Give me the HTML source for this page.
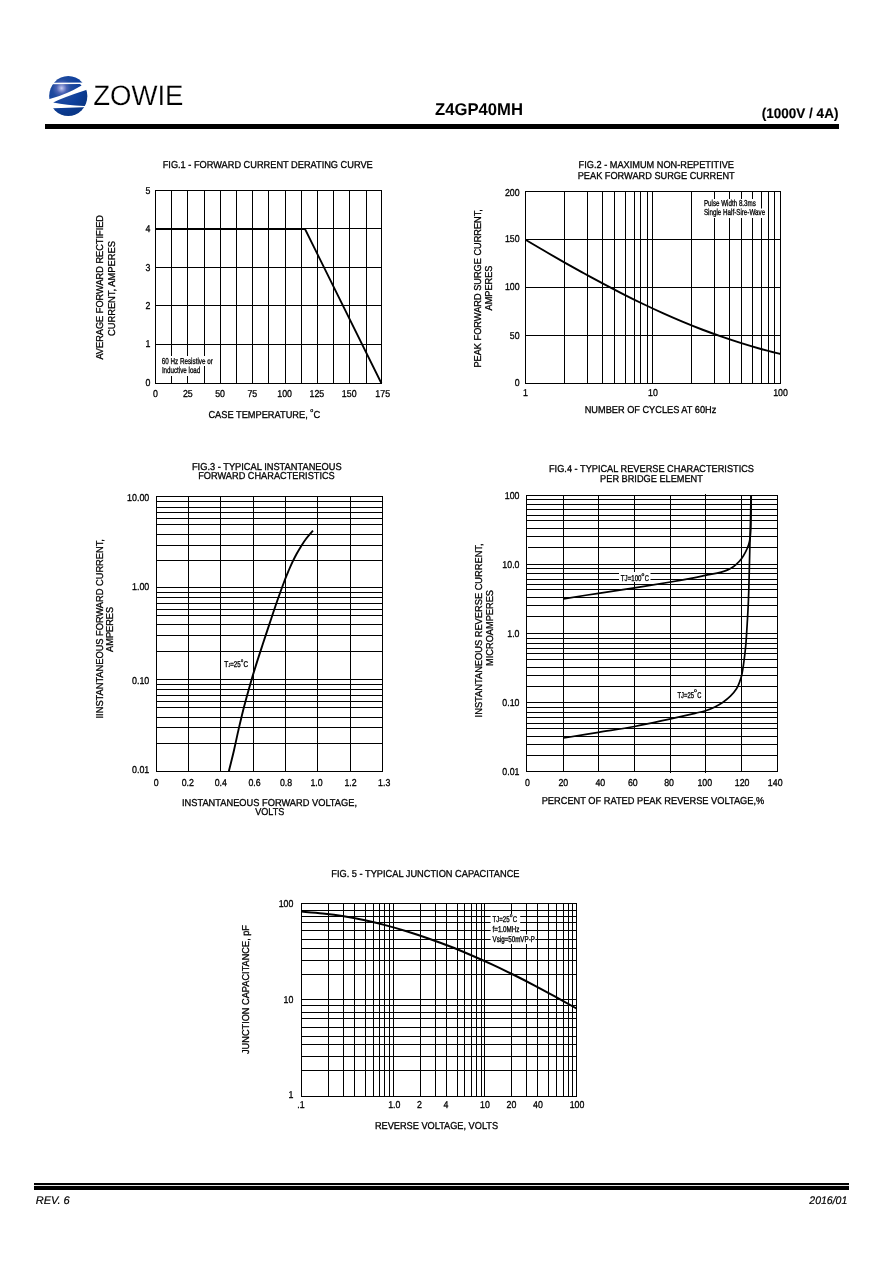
<!DOCTYPE html>
<html lang="en">
<head>
<meta charset="utf-8">
<title>Z4GP40MH - Rating and Characteristic Curves</title>
<style>
html,body{margin:0;padding:0;background:#fff;}
body{width:889px;height:1265px;overflow:hidden;position:relative;font-family:"Liberation Sans", sans-serif;}
svg{display:block;position:absolute;left:0;top:0;}
svg text{font-family:"Liberation Sans", sans-serif;text-rendering:geometricPrecision;}
</style>
</head>
<body>
<svg width="889" height="1265" viewBox="0 0 889 1265">
<rect x="0" y="0" width="889" height="1265" fill="#fff"/>
<defs>
<radialGradient id="lg" gradientUnits="userSpaceOnUse" cx="61.6" cy="88.2" r="26" fx="61.6" fy="88.2">
<stop offset="0" stop-color="#c9cdf2"/><stop offset="0.07" stop-color="#9aa4dc"/><stop offset="0.2" stop-color="#4a62b4"/><stop offset="0.36" stop-color="#1f4a9e"/><stop offset="0.7" stop-color="#0d3f9c"/><stop offset="1" stop-color="#0a3788"/>
</radialGradient>
<clipPath id="lc"><ellipse cx="68.25" cy="96.1" rx="19.1" ry="20.0"/></clipPath>
</defs>
<g id="logo" clip-path="url(#lc)" fill="url(#lg)"><path d="M44.00 72.00 L94.00 72.00 L94.00 82.35 L44.00 82.69 Z"/><path d="M44.00 84.20 L80.00 83.98 L81.57 85.39 Q67.62 93.82 49.62 99.11 L44.00 101.25 Z"/><path d="M53.17 102.43 Q63.40 97.42 86.07 90.00 L94.00 87.07 L94.00 106.42 L84.21 105.91 Q66.50 105.30 53.17 102.54 Z"/><path d="M44.00 108.67 L54.12 108.28 L82.81 107.26 L94.00 106.87 L94.00 119.98 L44.00 119.98 Z"/></g>
<text x="93.20" y="104.80" font-size="28" textLength="90.30" lengthAdjust="spacingAndGlyphs" fill="#000" stroke="#fff" stroke-width="0.2">ZOWIE</text>
<rect x="45" y="124.0" width="794" height="5" fill="#000"/>
<text x="435.00" y="114.70" font-size="17" font-weight="bold" textLength="88.00" lengthAdjust="spacingAndGlyphs" fill="#000">Z4GP40MH</text>
<text x="761.80" y="118.40" font-size="14" font-weight="bold" textLength="76.60" lengthAdjust="spacingAndGlyphs" fill="#000" stroke="#000" stroke-width="0.15">(1000V / 4A)</text>
<rect x="34" y="1183.0" width="815" height="2" fill="#000"/>
<rect x="34" y="1185.9" width="815" height="4.1" fill="#000"/>
<text x="35.70" y="1204.00" font-size="11" font-style="italic" fill="#000" stroke="#000" stroke-width="0.2">REV. 6</text>
<text x="809.33" y="1204.00" font-size="11" font-style="italic" textLength="37.97" lengthAdjust="spacingAndGlyphs" fill="#000" stroke="#000" stroke-width="0.2">2016/01</text>
<rect x="155.0" y="190" width="1" height="194" fill="#000"/>
<rect x="171.0" y="190" width="1" height="194" fill="#000"/>
<rect x="187.0" y="190" width="1" height="194" fill="#000"/>
<rect x="204.0" y="190" width="1" height="194" fill="#000"/>
<rect x="220.0" y="190" width="1" height="194" fill="#000"/>
<rect x="236.0" y="190" width="1" height="194" fill="#000"/>
<rect x="252.0" y="190" width="1" height="194" fill="#000"/>
<rect x="268.0" y="190" width="1" height="194" fill="#000"/>
<rect x="285.0" y="190" width="1" height="194" fill="#000"/>
<rect x="301.0" y="190" width="1" height="194" fill="#000"/>
<rect x="317.0" y="190" width="1" height="194" fill="#000"/>
<rect x="333.0" y="190" width="1" height="194" fill="#000"/>
<rect x="349.0" y="190" width="1" height="194" fill="#000"/>
<rect x="366.0" y="190" width="1" height="194" fill="#000"/>
<rect x="381.0" y="190" width="1" height="194" fill="#000"/>
<rect x="155" y="190.0" width="227" height="1" fill="#000"/>
<rect x="155" y="228.0" width="227" height="1" fill="#000"/>
<rect x="155" y="267.0" width="227" height="1" fill="#000"/>
<rect x="155" y="305.0" width="227" height="1" fill="#000"/>
<rect x="155" y="344.0" width="227" height="1" fill="#000"/>
<rect x="155" y="383.0" width="227" height="1" fill="#000"/>
<rect x="159.5" y="356" width="54" height="10" fill="#fff"/>
<rect x="159.5" y="365" width="42" height="11" fill="#fff"/>
<text x="161.70" y="364.30" font-size="8.6" textLength="51.10" lengthAdjust="spacingAndGlyphs" fill="#000" stroke="#000" stroke-width="0.3">60 Hz Resistive or</text>
<text x="161.90" y="373.40" font-size="8.6" textLength="38.40" lengthAdjust="spacingAndGlyphs" fill="#000" stroke="#000" stroke-width="0.3">Inductive load</text>
<path d="M155.50 229.00 L305.00 229.00 L381.50 383.50" fill="none" stroke="#000" stroke-width="1.8" stroke-linejoin="miter"/>
<text x="162.70" y="168.00" font-size="10" textLength="210.00" lengthAdjust="spacingAndGlyphs" fill="#000" stroke="#000" stroke-width="0.3">FIG.1 - FORWARD CURRENT DERATING CURVE</text>
<text x="145.51" y="194.30" font-size="10" textLength="4.89" lengthAdjust="spacingAndGlyphs" fill="#000" stroke="#000" stroke-width="0.3">5</text>
<text x="145.51" y="232.00" font-size="10" textLength="4.89" lengthAdjust="spacingAndGlyphs" fill="#000" stroke="#000" stroke-width="0.3">4</text>
<text x="145.51" y="271.40" font-size="10" textLength="4.89" lengthAdjust="spacingAndGlyphs" fill="#000" stroke="#000" stroke-width="0.3">3</text>
<text x="145.51" y="309.00" font-size="10" textLength="4.89" lengthAdjust="spacingAndGlyphs" fill="#000" stroke="#000" stroke-width="0.3">2</text>
<text x="145.51" y="347.20" font-size="10" textLength="4.89" lengthAdjust="spacingAndGlyphs" fill="#000" stroke="#000" stroke-width="0.3">1</text>
<text x="145.51" y="385.70" font-size="10" textLength="4.89" lengthAdjust="spacingAndGlyphs" fill="#000" stroke="#000" stroke-width="0.3">0</text>
<text x="153.05" y="396.70" font-size="10" textLength="4.89" lengthAdjust="spacingAndGlyphs" fill="#000" stroke="#000" stroke-width="0.3">0</text>
<text x="182.89" y="396.70" font-size="10" textLength="9.79" lengthAdjust="spacingAndGlyphs" fill="#000" stroke="#000" stroke-width="0.3">25</text>
<text x="215.18" y="396.70" font-size="10" textLength="9.79" lengthAdjust="spacingAndGlyphs" fill="#000" stroke="#000" stroke-width="0.3">50</text>
<text x="247.46" y="396.70" font-size="10" textLength="9.79" lengthAdjust="spacingAndGlyphs" fill="#000" stroke="#000" stroke-width="0.3">75</text>
<text x="277.30" y="396.70" font-size="10" textLength="14.68" lengthAdjust="spacingAndGlyphs" fill="#000" stroke="#000" stroke-width="0.3">100</text>
<text x="309.59" y="396.70" font-size="10" textLength="14.68" lengthAdjust="spacingAndGlyphs" fill="#000" stroke="#000" stroke-width="0.3">125</text>
<text x="341.87" y="396.70" font-size="10" textLength="14.68" lengthAdjust="spacingAndGlyphs" fill="#000" stroke="#000" stroke-width="0.3">150</text>
<text x="375.36" y="396.70" font-size="10" textLength="14.68" lengthAdjust="spacingAndGlyphs" fill="#000" stroke="#000" stroke-width="0.3">175</text>
<text><tspan x="208.40" y="417.70" font-size="10" textLength="99.40" lengthAdjust="spacingAndGlyphs" fill="#000" stroke="#000" stroke-width="0.3">CASE TEMPERATURE,</tspan><tspan x="310.20" y="411.90" font-size="5.5" textLength="3.00" lengthAdjust="spacingAndGlyphs" fill="#000" stroke="#000" stroke-width="0.3">o</tspan><tspan x="313.50" y="417.70" font-size="10" textLength="6.80" lengthAdjust="spacingAndGlyphs" fill="#000" stroke="#000" stroke-width="0.3">C</tspan></text>
<text x="31.10" y="287.30" font-size="10" textLength="144.60" lengthAdjust="spacingAndGlyphs" fill="#000" stroke="#000" stroke-width="0.3" transform="rotate(-90 103.40 287.30)">AVERAGE FORWARD RECTIFIED</text>
<text x="67.30" y="288.60" font-size="10" textLength="95.00" lengthAdjust="spacingAndGlyphs" fill="#000" stroke="#000" stroke-width="0.3" transform="rotate(-90 114.80 288.60)">CURRENT, AMPERES</text>
<rect x="525.0" y="191" width="1" height="193" fill="#000"/>
<rect x="564.0" y="191" width="1" height="193" fill="#000"/>
<rect x="587.0" y="191" width="1" height="193" fill="#000"/>
<rect x="602.0" y="191" width="1" height="193" fill="#000"/>
<rect x="614.0" y="191" width="1" height="193" fill="#000"/>
<rect x="625.0" y="191" width="1" height="193" fill="#000"/>
<rect x="634.0" y="191" width="1" height="193" fill="#000"/>
<rect x="640.0" y="191" width="1" height="193" fill="#000"/>
<rect x="647.0" y="191" width="1" height="193" fill="#000"/>
<rect x="652.0" y="191" width="1" height="193" fill="#000"/>
<rect x="691.0" y="191" width="1" height="193" fill="#000"/>
<rect x="714.0" y="191" width="1" height="193" fill="#000"/>
<rect x="729.0" y="191" width="1" height="193" fill="#000"/>
<rect x="741.0" y="191" width="1" height="193" fill="#000"/>
<rect x="752.0" y="191" width="1" height="193" fill="#000"/>
<rect x="761.0" y="191" width="1" height="193" fill="#000"/>
<rect x="768.0" y="191" width="1" height="193" fill="#000"/>
<rect x="774.0" y="191" width="1" height="193" fill="#000"/>
<rect x="780.0" y="191" width="1" height="193" fill="#000"/>
<rect x="525" y="191.0" width="256" height="1" fill="#000"/>
<rect x="525" y="239.0" width="256" height="1" fill="#000"/>
<rect x="525" y="287.0" width="256" height="1" fill="#000"/>
<rect x="525" y="335.0" width="256" height="1" fill="#000"/>
<rect x="525" y="383.0" width="256" height="1" fill="#000"/>
<rect x="703" y="199" width="55" height="10" fill="#fff"/>
<rect x="703" y="208.5" width="63" height="9.5" fill="#fff"/>
<text x="703.90" y="206.30" font-size="8.6" textLength="52.00" lengthAdjust="spacingAndGlyphs" fill="#000" stroke="#000" stroke-width="0.3">Pulse Width 8.3ms</text>
<text x="703.90" y="215.30" font-size="8.6" textLength="61.30" lengthAdjust="spacingAndGlyphs" fill="#000" stroke="#000" stroke-width="0.3">Single Half-Sire-Wave</text>
<path d="M525.50 239.80 C528.77 241.72 538.57 247.50 545.10 251.30 C551.63 255.10 558.17 258.90 564.70 262.60 C571.23 266.30 577.75 269.92 584.30 273.50 C590.85 277.08 597.45 280.63 604.00 284.10 C610.55 287.57 617.07 290.98 623.60 294.30 C630.13 297.62 636.67 300.87 643.20 304.00 C649.73 307.13 656.27 310.17 662.80 313.10 C669.33 316.03 675.87 318.87 682.40 321.60 C688.93 324.33 695.45 326.98 702.00 329.50 C708.55 332.02 715.15 334.42 721.70 336.70 C728.25 338.98 734.77 341.15 741.30 343.20 C747.83 345.25 754.37 347.20 760.90 349.00 C767.43 350.80 777.23 353.17 780.50 354.00" fill="none" stroke="#000" stroke-width="1.9" stroke-linejoin="round"/>
<text x="578.61" y="168.40" font-size="10" textLength="155.39" lengthAdjust="spacingAndGlyphs" fill="#000" stroke="#000" stroke-width="0.3">FIG.2 - MAXIMUM NON-REPETITIVE</text>
<text x="577.74" y="179.40" font-size="10" textLength="156.93" lengthAdjust="spacingAndGlyphs" fill="#000" stroke="#000" stroke-width="0.3">PEAK FORWARD SURGE CURRENT</text>
<text x="504.92" y="196.20" font-size="10" textLength="14.68" lengthAdjust="spacingAndGlyphs" fill="#000" stroke="#000" stroke-width="0.3">200</text>
<text x="504.92" y="242.10" font-size="10" textLength="14.68" lengthAdjust="spacingAndGlyphs" fill="#000" stroke="#000" stroke-width="0.3">150</text>
<text x="504.92" y="290.00" font-size="10" textLength="14.68" lengthAdjust="spacingAndGlyphs" fill="#000" stroke="#000" stroke-width="0.3">100</text>
<text x="509.81" y="338.70" font-size="10" textLength="9.79" lengthAdjust="spacingAndGlyphs" fill="#000" stroke="#000" stroke-width="0.3">50</text>
<text x="514.71" y="385.80" font-size="10" textLength="4.89" lengthAdjust="spacingAndGlyphs" fill="#000" stroke="#000" stroke-width="0.3">0</text>
<text x="523.05" y="395.70" font-size="10" textLength="4.89" lengthAdjust="spacingAndGlyphs" fill="#000" stroke="#000" stroke-width="0.3">1</text>
<text x="648.11" y="395.70" font-size="10" textLength="9.79" lengthAdjust="spacingAndGlyphs" fill="#000" stroke="#000" stroke-width="0.3">10</text>
<text x="773.16" y="395.70" font-size="10" textLength="14.68" lengthAdjust="spacingAndGlyphs" fill="#000" stroke="#000" stroke-width="0.3">100</text>
<text x="584.72" y="412.50" font-size="10" textLength="131.56" lengthAdjust="spacingAndGlyphs" fill="#000" stroke="#000" stroke-width="0.3">NUMBER OF CYCLES AT 60Hz</text>
<text x="402.17" y="288.30" font-size="10" textLength="158.47" lengthAdjust="spacingAndGlyphs" fill="#000" stroke="#000" stroke-width="0.3" transform="rotate(-90 481.40 288.30)">PEAK FORWARD SURGE CURRENT,</text>
<text x="469.50" y="288.00" font-size="10" textLength="44.99" lengthAdjust="spacingAndGlyphs" fill="#000" stroke="#000" stroke-width="0.3" transform="rotate(-90 492.00 288.00)">AMPERES</text>
<rect x="156" y="496.0" width="227" height="1" fill="#000"/>
<rect x="156" y="501.0" width="227" height="1" fill="#000"/>
<rect x="156" y="507.0" width="227" height="1" fill="#000"/>
<rect x="156" y="512.0" width="227" height="1" fill="#000"/>
<rect x="156" y="518.0" width="227" height="1" fill="#000"/>
<rect x="156" y="524.0" width="227" height="1" fill="#000"/>
<rect x="156" y="534.0" width="227" height="1" fill="#000"/>
<rect x="156" y="545.0" width="227" height="1" fill="#000"/>
<rect x="156" y="560.0" width="227" height="1" fill="#000"/>
<rect x="156" y="587.0" width="227" height="1" fill="#000"/>
<rect x="156" y="592.0" width="227" height="1" fill="#000"/>
<rect x="156" y="597.0" width="227" height="1" fill="#000"/>
<rect x="156" y="603.0" width="227" height="1" fill="#000"/>
<rect x="156" y="609.0" width="227" height="1" fill="#000"/>
<rect x="156" y="615.0" width="227" height="1" fill="#000"/>
<rect x="156" y="624.0" width="227" height="1" fill="#000"/>
<rect x="156" y="635.0" width="227" height="1" fill="#000"/>
<rect x="156" y="651.0" width="227" height="1" fill="#000"/>
<rect x="156" y="679.0" width="227" height="1" fill="#000"/>
<rect x="156" y="684.0" width="227" height="1" fill="#000"/>
<rect x="156" y="689.0" width="227" height="1" fill="#000"/>
<rect x="156" y="695.0" width="227" height="1" fill="#000"/>
<rect x="156" y="701.0" width="227" height="1" fill="#000"/>
<rect x="156" y="707.0" width="227" height="1" fill="#000"/>
<rect x="156" y="717.0" width="227" height="1" fill="#000"/>
<rect x="156" y="727.0" width="227" height="1" fill="#000"/>
<rect x="156" y="743.0" width="227" height="1" fill="#000"/>
<rect x="156" y="771.0" width="227" height="1" fill="#000"/>
<rect x="156.0" y="496" width="1" height="276" fill="#000"/>
<rect x="188.0" y="496" width="1" height="276" fill="#000"/>
<rect x="220.0" y="496" width="1" height="276" fill="#000"/>
<rect x="253.0" y="496" width="1" height="276" fill="#000"/>
<rect x="285.0" y="496" width="1" height="276" fill="#000"/>
<rect x="317.0" y="496" width="1" height="276" fill="#000"/>
<rect x="350.0" y="496" width="1" height="276" fill="#000"/>
<rect x="382.0" y="496" width="1" height="276" fill="#000"/>
<text x="191.94" y="469.60" font-size="10" textLength="149.71" lengthAdjust="spacingAndGlyphs" fill="#000" stroke="#000" stroke-width="0.3">FIG.3 - TYPICAL INSTANTANEOUS</text>
<text x="198.26" y="478.50" font-size="10" textLength="136.48" lengthAdjust="spacingAndGlyphs" fill="#000" stroke="#000" stroke-width="0.3">FORWARD CHARACTERISTICS</text>
<text x="127.03" y="500.90" font-size="10" textLength="22.27" lengthAdjust="spacingAndGlyphs" fill="#000" stroke="#000" stroke-width="0.3">10.00</text>
<text x="131.98" y="590.20" font-size="10" textLength="17.32" lengthAdjust="spacingAndGlyphs" fill="#000" stroke="#000" stroke-width="0.3">1.00</text>
<text x="131.98" y="684.30" font-size="10" textLength="17.32" lengthAdjust="spacingAndGlyphs" fill="#000" stroke="#000" stroke-width="0.3">0.10</text>
<text x="131.98" y="772.50" font-size="10" textLength="17.32" lengthAdjust="spacingAndGlyphs" fill="#000" stroke="#000" stroke-width="0.3">0.01</text>
<text x="153.75" y="785.60" font-size="10" textLength="4.89" lengthAdjust="spacingAndGlyphs" fill="#000" stroke="#000" stroke-width="0.3">0</text>
<text x="181.68" y="785.60" font-size="10" textLength="12.23" lengthAdjust="spacingAndGlyphs" fill="#000" stroke="#000" stroke-width="0.3">0.2</text>
<text x="214.68" y="785.60" font-size="10" textLength="12.23" lengthAdjust="spacingAndGlyphs" fill="#000" stroke="#000" stroke-width="0.3">0.4</text>
<text x="248.48" y="785.60" font-size="10" textLength="12.23" lengthAdjust="spacingAndGlyphs" fill="#000" stroke="#000" stroke-width="0.3">0.6</text>
<text x="279.88" y="785.60" font-size="10" textLength="12.23" lengthAdjust="spacingAndGlyphs" fill="#000" stroke="#000" stroke-width="0.3">0.8</text>
<text x="310.38" y="785.60" font-size="10" textLength="12.23" lengthAdjust="spacingAndGlyphs" fill="#000" stroke="#000" stroke-width="0.3">1.0</text>
<text x="344.38" y="785.60" font-size="10" textLength="12.23" lengthAdjust="spacingAndGlyphs" fill="#000" stroke="#000" stroke-width="0.3">1.2</text>
<text x="378.08" y="785.60" font-size="10" textLength="12.23" lengthAdjust="spacingAndGlyphs" fill="#000" stroke="#000" stroke-width="0.3">1.3</text>
<text x="182.00" y="805.50" font-size="10" textLength="175.00" lengthAdjust="spacingAndGlyphs" fill="#000" stroke="#000" stroke-width="0.3">INSTANTANEOUS FORWARD VOLTAGE,</text>
<text x="255.30" y="814.50" font-size="10" textLength="29.00" lengthAdjust="spacingAndGlyphs" fill="#000" stroke="#000" stroke-width="0.3">VOLTS</text>
<text x="12.95" y="628.80" font-size="10" textLength="179.30" lengthAdjust="spacingAndGlyphs" fill="#000" stroke="#000" stroke-width="0.3" transform="rotate(-90 102.60 628.80)">IINSTANTANEOUS FORWARD CURRENT,</text>
<text x="90.10" y="629.40" font-size="10" textLength="44.99" lengthAdjust="spacingAndGlyphs" fill="#000" stroke="#000" stroke-width="0.3" transform="rotate(-90 112.60 629.40)">AMPERES</text>
<text><tspan x="224.30" y="666.90" font-size="8.4" textLength="4.00" lengthAdjust="spacingAndGlyphs" fill="#000" stroke="#000" stroke-width="0.35">T</tspan><tspan x="228.40" y="666.90" font-size="5.6" textLength="1.80" lengthAdjust="spacingAndGlyphs" fill="#000" stroke="#000" stroke-width="0.35">J</tspan><tspan x="230.20" y="666.90" font-size="8.4" textLength="10.40" lengthAdjust="spacingAndGlyphs" fill="#000" stroke="#000" stroke-width="0.35">=25</tspan><tspan x="241.00" y="661.90" font-size="5" textLength="2.20" lengthAdjust="spacingAndGlyphs" fill="#000" stroke="#000" stroke-width="0.3">o</tspan><tspan x="243.60" y="666.90" font-size="8.4" textLength="4.50" lengthAdjust="spacingAndGlyphs" fill="#000" stroke="#000" stroke-width="0.35">C</tspan></text>
<path d="M228.80 771.50 C229.67 767.95 232.35 757.30 234.00 750.20 C235.65 743.10 237.07 735.98 238.70 728.90 C240.33 721.82 241.98 714.78 243.80 707.70 C245.62 700.62 247.57 693.50 249.60 686.40 C251.63 679.30 253.78 672.20 256.00 665.10 C258.22 658.00 260.58 650.88 262.90 643.80 C265.22 636.72 267.53 629.68 269.90 622.60 C272.27 615.52 274.62 608.40 277.10 601.30 C279.58 594.20 282.83 585.22 284.80 580.00 C286.77 574.78 287.63 572.98 288.90 570.00 C290.17 567.02 291.15 564.73 292.40 562.10 C293.65 559.47 294.97 556.82 296.40 554.20 C297.83 551.58 299.35 549.02 301.00 546.40 C302.65 543.78 304.30 541.13 306.30 538.50 C308.30 535.87 311.88 531.92 313.00 530.60" fill="none" stroke="#000" stroke-width="1.9" stroke-linejoin="round"/>
<rect x="526" y="495.0" width="252" height="1" fill="#000"/>
<rect x="526" y="499.0" width="252" height="1" fill="#000"/>
<rect x="526" y="504.0" width="252" height="1" fill="#000"/>
<rect x="526" y="509.0" width="252" height="1" fill="#000"/>
<rect x="526" y="515.0" width="252" height="1" fill="#000"/>
<rect x="526" y="520.0" width="252" height="1" fill="#000"/>
<rect x="526" y="528.0" width="252" height="1" fill="#000"/>
<rect x="526" y="536.0" width="252" height="1" fill="#000"/>
<rect x="528" y="547.0" width="250" height="1" fill="#000"/>
<rect x="526" y="564.0" width="252" height="1" fill="#000"/>
<rect x="526" y="568.0" width="252" height="1" fill="#000"/>
<rect x="526" y="573.0" width="252" height="1" fill="#000"/>
<rect x="526" y="579.0" width="252" height="1" fill="#000"/>
<rect x="526" y="584.0" width="252" height="1" fill="#000"/>
<rect x="526" y="589.0" width="252" height="1" fill="#000"/>
<rect x="526" y="597.0" width="252" height="1" fill="#000"/>
<rect x="526" y="605.0" width="252" height="1" fill="#000"/>
<rect x="526" y="616.0" width="252" height="1" fill="#000"/>
<rect x="526" y="633.0" width="252" height="1" fill="#000"/>
<rect x="526" y="638.0" width="252" height="1" fill="#000"/>
<rect x="526" y="643.0" width="252" height="1" fill="#000"/>
<rect x="526" y="648.0" width="252" height="1" fill="#000"/>
<rect x="526" y="653.0" width="252" height="1" fill="#000"/>
<rect x="526" y="659.0" width="252" height="1" fill="#000"/>
<rect x="526" y="667.0" width="252" height="1" fill="#000"/>
<rect x="526" y="675.0" width="252" height="1" fill="#000"/>
<rect x="526" y="686.0" width="252" height="1" fill="#000"/>
<rect x="526" y="702.0" width="252" height="1" fill="#000"/>
<rect x="526" y="707.0" width="252" height="1" fill="#000"/>
<rect x="526" y="712.0" width="252" height="1" fill="#000"/>
<rect x="526" y="717.0" width="252" height="1" fill="#000"/>
<rect x="526" y="723.0" width="252" height="1" fill="#000"/>
<rect x="526" y="728.0" width="252" height="1" fill="#000"/>
<rect x="526" y="736.0" width="252" height="1" fill="#000"/>
<rect x="526" y="744.0" width="252" height="1" fill="#000"/>
<rect x="526" y="755.0" width="252" height="1" fill="#000"/>
<rect x="526" y="771.0" width="252" height="1" fill="#000"/>
<rect x="526.0" y="495" width="1" height="277" fill="#000"/>
<rect x="563.0" y="495" width="1" height="277" fill="#000"/>
<rect x="598.0" y="495" width="1" height="277" fill="#000"/>
<rect x="634.0" y="495" width="1" height="277" fill="#000"/>
<rect x="670.0" y="495" width="1" height="278" fill="#000"/>
<rect x="705.0" y="494" width="1" height="279" fill="#000"/>
<rect x="741.0" y="495" width="1" height="277" fill="#000"/>
<rect x="777.0" y="495" width="1" height="277" fill="#000"/>
<text x="549.00" y="472.20" font-size="10" textLength="205.00" lengthAdjust="spacingAndGlyphs" fill="#000" stroke="#000" stroke-width="0.3">FIG.4 - TYPICAL REVERSE CHARACTERISTICS</text>
<text x="600.12" y="482.20" font-size="10" textLength="102.76" lengthAdjust="spacingAndGlyphs" fill="#000" stroke="#000" stroke-width="0.3">PER BRIDGE ELEMENT</text>
<text x="504.82" y="499.40" font-size="10" textLength="14.68" lengthAdjust="spacingAndGlyphs" fill="#000" stroke="#000" stroke-width="0.3">100</text>
<text x="502.37" y="567.80" font-size="10" textLength="17.13" lengthAdjust="spacingAndGlyphs" fill="#000" stroke="#000" stroke-width="0.3">10.0</text>
<text x="507.27" y="636.90" font-size="10" textLength="12.23" lengthAdjust="spacingAndGlyphs" fill="#000" stroke="#000" stroke-width="0.3">1.0</text>
<text x="502.37" y="705.80" font-size="10" textLength="17.13" lengthAdjust="spacingAndGlyphs" fill="#000" stroke="#000" stroke-width="0.3">0.10</text>
<text x="502.37" y="774.90" font-size="10" textLength="17.13" lengthAdjust="spacingAndGlyphs" fill="#000" stroke="#000" stroke-width="0.3">0.01</text>
<text x="525.05" y="785.60" font-size="10" textLength="4.89" lengthAdjust="spacingAndGlyphs" fill="#000" stroke="#000" stroke-width="0.3">0</text>
<text x="558.41" y="785.60" font-size="10" textLength="9.79" lengthAdjust="spacingAndGlyphs" fill="#000" stroke="#000" stroke-width="0.3">20</text>
<text x="595.41" y="785.60" font-size="10" textLength="9.79" lengthAdjust="spacingAndGlyphs" fill="#000" stroke="#000" stroke-width="0.3">40</text>
<text x="627.91" y="785.60" font-size="10" textLength="9.79" lengthAdjust="spacingAndGlyphs" fill="#000" stroke="#000" stroke-width="0.3">60</text>
<text x="664.21" y="785.60" font-size="10" textLength="9.79" lengthAdjust="spacingAndGlyphs" fill="#000" stroke="#000" stroke-width="0.3">80</text>
<text x="697.46" y="785.60" font-size="10" textLength="14.68" lengthAdjust="spacingAndGlyphs" fill="#000" stroke="#000" stroke-width="0.3">100</text>
<text x="734.76" y="785.60" font-size="10" textLength="14.68" lengthAdjust="spacingAndGlyphs" fill="#000" stroke="#000" stroke-width="0.3">120</text>
<text x="767.86" y="785.60" font-size="10" textLength="14.68" lengthAdjust="spacingAndGlyphs" fill="#000" stroke="#000" stroke-width="0.3">140</text>
<text x="541.70" y="804.00" font-size="10" textLength="222.60" lengthAdjust="spacingAndGlyphs" fill="#000" stroke="#000" stroke-width="0.3">PERCENT OF RATED PEAK REVERSE VOLTAGE,%</text>
<text x="395.00" y="630.40" font-size="10" textLength="174.00" lengthAdjust="spacingAndGlyphs" fill="#000" stroke="#000" stroke-width="0.3" transform="rotate(-90 482.00 630.40)">INSTANTANEOUS REVERSE CURRENT,</text>
<text x="455.35" y="628.00" font-size="10" textLength="75.90" lengthAdjust="spacingAndGlyphs" fill="#000" stroke="#000" stroke-width="0.3" transform="rotate(-90 493.30 628.00)">MICROAMPERES</text>
<rect x="619" y="572" width="31.5" height="10" fill="#fff"/>
<text><tspan x="620.80" y="580.70" font-size="8.4" textLength="20.70" lengthAdjust="spacingAndGlyphs" fill="#000" stroke="#000" stroke-width="0.35">TJ=100</tspan><tspan x="641.60" y="575.60" font-size="5" textLength="2.80" lengthAdjust="spacingAndGlyphs" fill="#000" stroke="#000" stroke-width="0.3">o</tspan><tspan x="644.80" y="580.70" font-size="8.4" textLength="4.10" lengthAdjust="spacingAndGlyphs" fill="#000" stroke="#000" stroke-width="0.35">C</tspan></text>
<text><tspan x="677.50" y="697.50" font-size="8.4" textLength="16.50" lengthAdjust="spacingAndGlyphs" fill="#000" stroke="#000" stroke-width="0.35">TJ=25</tspan><tspan x="694.00" y="692.40" font-size="5" textLength="2.80" lengthAdjust="spacingAndGlyphs" fill="#000" stroke="#000" stroke-width="0.3">o</tspan><tspan x="697.20" y="697.50" font-size="8.4" textLength="4.10" lengthAdjust="spacingAndGlyphs" fill="#000" stroke="#000" stroke-width="0.35">C</tspan></text>
<path d="M563.50 598.80 C569.33 597.88 586.67 595.13 598.50 593.30 C610.33 591.47 622.50 589.68 634.50 587.80 C646.50 585.92 660.42 583.70 670.50 582.00 C680.58 580.30 689.18 578.70 695.00 577.60 C700.82 576.50 701.72 576.15 705.40 575.40 C709.08 574.65 713.92 573.82 717.10 573.10 C720.28 572.38 722.27 571.87 724.50 571.10 C726.73 570.33 728.63 569.53 730.50 568.50 C732.37 567.47 733.87 566.53 735.70 564.90 C737.53 563.27 739.85 560.87 741.50 558.70 C743.15 556.53 744.40 554.27 745.60 551.90 C746.80 549.53 747.93 546.98 748.70 544.50 C749.47 542.02 749.85 539.90 750.20 537.00 C750.55 534.10 750.65 531.60 750.80 527.10 C750.95 522.60 751.03 515.25 751.10 510.00 C751.17 504.75 751.18 498.00 751.20 495.60" fill="none" stroke="#000" stroke-width="1.7" stroke-linejoin="round"/>
<path d="M563.50 738.00 C569.33 737.05 586.67 734.22 598.50 732.30 C610.33 730.38 622.50 728.75 634.50 726.50 C646.50 724.25 660.42 721.00 670.50 718.80 C680.58 716.60 689.17 714.63 695.00 713.30 C700.83 711.97 702.18 711.87 705.50 710.80 C708.82 709.73 711.98 708.33 714.90 706.90 C717.82 705.47 720.42 703.98 723.00 702.20 C725.58 700.42 728.15 698.43 730.40 696.20 C732.65 693.97 734.93 691.27 736.50 688.80 C738.07 686.33 738.92 683.75 739.80 681.40 C740.68 679.05 741.20 677.38 741.80 674.70 C742.40 672.02 742.90 668.67 743.40 665.30 C743.90 661.93 744.38 658.08 744.80 654.50 C745.22 650.92 745.57 647.83 745.90 643.80 C746.23 639.77 746.52 634.78 746.80 630.30 C747.08 625.82 747.35 621.38 747.60 616.90 C747.85 612.42 748.10 607.88 748.30 603.40 C748.50 598.92 748.63 595.57 748.80 590.00 C748.97 584.43 749.12 577.50 749.30 570.00 C749.48 562.50 749.70 553.33 749.90 545.00 C750.10 536.67 750.32 528.23 750.50 520.00 C750.68 511.77 750.92 499.67 751.00 495.60" fill="none" stroke="#000" stroke-width="1.7" stroke-linejoin="round"/>
<rect x="301" y="903.0" width="276" height="1" fill="#000"/>
<rect x="301" y="910.0" width="276" height="1" fill="#000"/>
<rect x="301" y="916.0" width="276" height="1" fill="#000"/>
<rect x="301" y="922.0" width="276" height="1" fill="#000"/>
<rect x="301" y="930.0" width="276" height="1" fill="#000"/>
<rect x="301" y="939.0" width="276" height="1" fill="#000"/>
<rect x="301" y="948.0" width="276" height="1" fill="#000"/>
<rect x="301" y="960.0" width="276" height="1" fill="#000"/>
<rect x="301" y="974.0" width="276" height="1" fill="#000"/>
<rect x="301" y="999.0" width="276" height="1" fill="#000"/>
<rect x="301" y="1005.0" width="276" height="1" fill="#000"/>
<rect x="301" y="1012.0" width="276" height="1" fill="#000"/>
<rect x="301" y="1018.0" width="276" height="1" fill="#000"/>
<rect x="301" y="1027.0" width="276" height="1" fill="#000"/>
<rect x="301" y="1036.0" width="276" height="1" fill="#000"/>
<rect x="301" y="1044.0" width="276" height="1" fill="#000"/>
<rect x="301" y="1056.0" width="276" height="1" fill="#000"/>
<rect x="301" y="1070.0" width="276" height="1" fill="#000"/>
<rect x="301" y="1096.0" width="276" height="1" fill="#000"/>
<rect x="301.0" y="903" width="1" height="193" fill="#000"/>
<rect x="328.0" y="903" width="1" height="193" fill="#000"/>
<rect x="343.0" y="903" width="1" height="193" fill="#000"/>
<rect x="354.0" y="903" width="1" height="193" fill="#000"/>
<rect x="365.0" y="903" width="1" height="193" fill="#000"/>
<rect x="373.0" y="903" width="1" height="193" fill="#000"/>
<rect x="379.0" y="903" width="1" height="193" fill="#000"/>
<rect x="384.0" y="903" width="1" height="193" fill="#000"/>
<rect x="389.0" y="903" width="1" height="193" fill="#000"/>
<rect x="393.0" y="903" width="1" height="193" fill="#000"/>
<rect x="420.0" y="903" width="1" height="193" fill="#000"/>
<rect x="435.0" y="903" width="1" height="193" fill="#000"/>
<rect x="446.0" y="903" width="1" height="193" fill="#000"/>
<rect x="457.0" y="903" width="1" height="193" fill="#000"/>
<rect x="464.0" y="903" width="1" height="193" fill="#000"/>
<rect x="471.0" y="903" width="1" height="193" fill="#000"/>
<rect x="476.0" y="903" width="1" height="193" fill="#000"/>
<rect x="481.0" y="903" width="1" height="193" fill="#000"/>
<rect x="484.0" y="903" width="1" height="193" fill="#000"/>
<rect x="511.0" y="903" width="1" height="193" fill="#000"/>
<rect x="526.0" y="903" width="1" height="193" fill="#000"/>
<rect x="537.0" y="903" width="1" height="193" fill="#000"/>
<rect x="548.0" y="903" width="1" height="193" fill="#000"/>
<rect x="556.0" y="903" width="1" height="193" fill="#000"/>
<rect x="563.0" y="903" width="1" height="193" fill="#000"/>
<rect x="568.0" y="903" width="1" height="193" fill="#000"/>
<rect x="572.0" y="903" width="1" height="193" fill="#000"/>
<rect x="576.0" y="903" width="1" height="193" fill="#000"/>
<text x="331.26" y="876.50" font-size="10" textLength="188.28" lengthAdjust="spacingAndGlyphs" fill="#000" stroke="#000" stroke-width="0.3">FIG. 5 - TYPICAL JUNCTION CAPACITANCE</text>
<text x="278.72" y="906.70" font-size="10" textLength="14.68" lengthAdjust="spacingAndGlyphs" fill="#000" stroke="#000" stroke-width="0.3">100</text>
<text x="283.61" y="1002.80" font-size="10" textLength="9.79" lengthAdjust="spacingAndGlyphs" fill="#000" stroke="#000" stroke-width="0.3">10</text>
<text x="288.51" y="1097.90" font-size="10" textLength="4.89" lengthAdjust="spacingAndGlyphs" fill="#000" stroke="#000" stroke-width="0.3">1</text>
<text x="297.33" y="1108.30" font-size="10" textLength="7.34" lengthAdjust="spacingAndGlyphs" fill="#000" stroke="#000" stroke-width="0.3">.1</text>
<text x="388.18" y="1108.30" font-size="10" textLength="12.23" lengthAdjust="spacingAndGlyphs" fill="#000" stroke="#000" stroke-width="0.3">1.0</text>
<text x="417.05" y="1108.30" font-size="10" textLength="4.89" lengthAdjust="spacingAndGlyphs" fill="#000" stroke="#000" stroke-width="0.3">2</text>
<text x="443.55" y="1108.30" font-size="10" textLength="4.89" lengthAdjust="spacingAndGlyphs" fill="#000" stroke="#000" stroke-width="0.3">4</text>
<text x="480.11" y="1108.30" font-size="10" textLength="9.79" lengthAdjust="spacingAndGlyphs" fill="#000" stroke="#000" stroke-width="0.3">10</text>
<text x="506.61" y="1108.30" font-size="10" textLength="9.79" lengthAdjust="spacingAndGlyphs" fill="#000" stroke="#000" stroke-width="0.3">20</text>
<text x="533.11" y="1108.30" font-size="10" textLength="9.79" lengthAdjust="spacingAndGlyphs" fill="#000" stroke="#000" stroke-width="0.3">40</text>
<text x="569.66" y="1108.30" font-size="10" textLength="14.68" lengthAdjust="spacingAndGlyphs" fill="#000" stroke="#000" stroke-width="0.3">100</text>
<text x="374.89" y="1129.20" font-size="10" textLength="123.22" lengthAdjust="spacingAndGlyphs" fill="#000" stroke="#000" stroke-width="0.3">REVERSE VOLTAGE, VOLTS</text>
<text x="184.91" y="989.50" font-size="10" textLength="128.98" lengthAdjust="spacingAndGlyphs" fill="#000" stroke="#000" stroke-width="0.3" transform="rotate(-90 249.40 989.50)">JUNCTION CAPACITANCE, pF</text>
<rect x="490.6" y="914" width="29.6" height="10" fill="#fff"/>
<rect x="490.6" y="924" width="29.6" height="10.5" fill="#fff"/>
<rect x="490.6" y="934.5" width="44.7" height="9.5" fill="#fff"/>
<text><tspan x="492.60" y="922.00" font-size="8.4" textLength="17.00" lengthAdjust="spacingAndGlyphs" fill="#000" stroke="#000" stroke-width="0.35">TJ=25</tspan><tspan x="509.80" y="917.00" font-size="5" textLength="2.70" lengthAdjust="spacingAndGlyphs" fill="#000" stroke="#000" stroke-width="0.3">o</tspan><tspan x="512.80" y="922.00" font-size="8.4" textLength="4.30" lengthAdjust="spacingAndGlyphs" fill="#000" stroke="#000" stroke-width="0.35">C</tspan></text>
<text x="492.50" y="931.80" font-size="8.4" textLength="26.90" lengthAdjust="spacingAndGlyphs" fill="#000" stroke="#000" stroke-width="0.35">f=1.0MHz</text>
<text x="492.50" y="942.20" font-size="8.4" textLength="42.40" lengthAdjust="spacingAndGlyphs" fill="#000" stroke="#000" stroke-width="0.35">Vsig=50mVP-P</text>
<path d="M301.50 911.60 C305.03 911.90 315.65 912.63 322.70 913.40 C329.75 914.17 336.75 915.05 343.80 916.20 C350.85 917.35 357.95 918.77 365.00 920.30 C372.05 921.83 379.05 923.53 386.10 925.40 C393.15 927.27 400.25 929.32 407.30 931.50 C414.35 933.68 421.35 936.03 428.40 938.50 C435.45 940.97 442.55 943.55 449.60 946.30 C456.65 949.05 463.65 951.98 470.70 955.00 C477.75 958.02 484.85 961.15 491.90 964.40 C498.95 967.65 505.95 971.02 513.00 974.50 C520.05 977.98 527.15 981.60 534.20 985.30 C541.25 989.00 548.25 992.83 555.30 996.70 C562.35 1000.57 572.97 1006.53 576.50 1008.50" fill="none" stroke="#000" stroke-width="2" stroke-linejoin="round"/>
</svg>
</body>
</html>
